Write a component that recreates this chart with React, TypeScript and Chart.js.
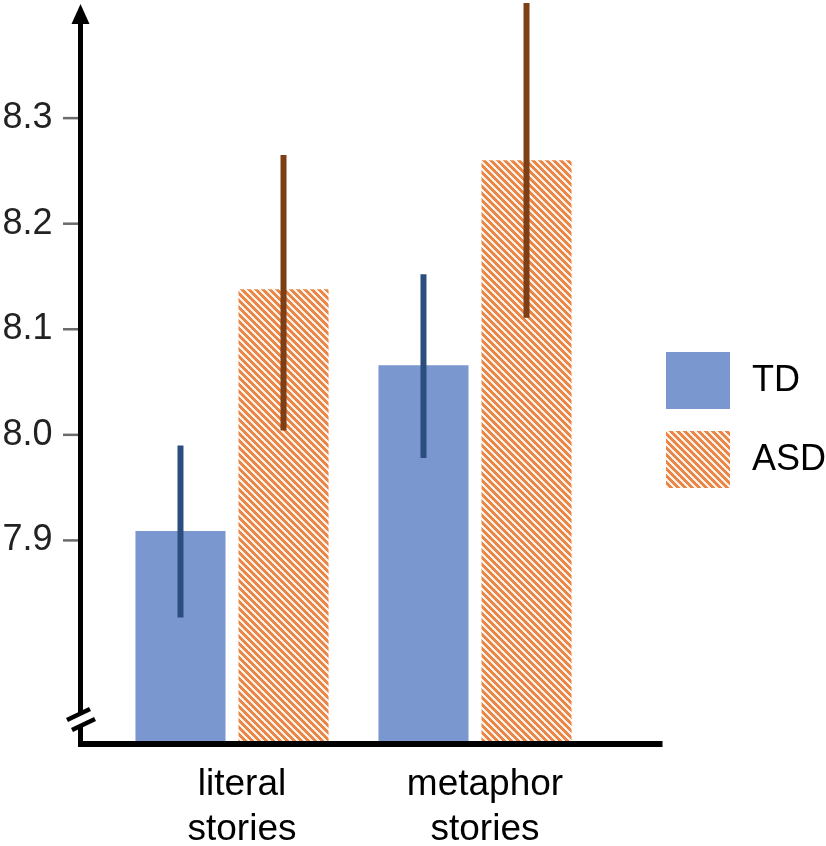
import React, { useEffect, useRef } from "react";
import { Chart, registerables } from "chart.js";

Chart.register(...registerables);

// ---- data ----
const categories: string[][] = [["literal", "stories"], ["metaphor", "stories"]];
const seriesNames = ["TD", "ASD"];
const tdMeans = [7.909, 8.066];
const tdLow = [7.827, 7.978];
const tdHigh = [7.99, 8.152];
const asdMeans = [8.138, 8.26];
const asdLow = [8.004, 8.111];
const asdHigh = [8.265, 8.409];
const yTicks = [7.9, 8.0, 8.1, 8.2, 8.3];
const yMin = 7.71;
const yMax = 8.41;

const FONT = "'Liberation Sans', Arial, Helvetica, sans-serif";
const TD_COLOR = "#7a97cf";
const TD_ERR = "#2b4e7e";
const ASD_ERR = "#7e3f17";
const HATCH_FG = "#ea8748";
const HATCH_BG = "#fdf1e8";

function makeHatch(): CanvasPattern | string {
  const p = 7;
  const c = document.createElement("canvas");
  c.width = p;
  c.height = p;
  const ctx = c.getContext("2d");
  if (!ctx) return HATCH_FG;
  ctx.fillStyle = HATCH_BG;
  ctx.fillRect(0, 0, p, p);
  ctx.fillStyle = HATCH_FG;
  for (let y = 0; y < p; y++) {
    for (let x = 0; x < p; x++) {
      if ((((x - y) % p) + p) % p < 4) ctx.fillRect(x, y, 1, 1);
    }
  }
  return ctx.createPattern(c, "repeat") || HATCH_FG;
}

const decorPlugin = {
  id: "decor",
  afterDatasetsDraw(chart: any) {
    const ctx: CanvasRenderingContext2D = chart.ctx;
    const ys = chart.scales.y;
    const lows = [tdLow, asdLow];
    const highs = [tdHigh, asdHigh];
    const cols = [TD_ERR, ASD_ERR];
    chart.data.datasets.forEach((_ds: any, di: number) => {
      const meta = chart.getDatasetMeta(di);
      meta.data.forEach((bar: any, i: number) => {
        ctx.save();
        ctx.strokeStyle = cols[di];
        ctx.lineWidth = 6;
        ctx.lineCap = "butt";
        ctx.beginPath();
        ctx.moveTo(bar.x, ys.getPixelForValue(lows[di][i]));
        ctx.lineTo(bar.x, ys.getPixelForValue(highs[di][i]));
        ctx.stroke();
        ctx.restore();
      });
    });
  },
  afterDraw(chart: any) {
    const ctx: CanvasRenderingContext2D = chart.ctx;
    const ca = chart.chartArea;
    const ys = chart.scales.y;
    const ax = ca.left - 30; // y axis line x
    const ay = ca.bottom + 3; // x axis line y
    ctx.save();
    // tick marks
    ctx.strokeStyle = "#6b6b6b";
    ctx.lineWidth = 2.5;
    ys.ticks.forEach((t: any) => {
      const py = ys.getPixelForValue(t.value);
      ctx.beginPath();
      ctx.moveTo(ax - 17.5, py);
      ctx.lineTo(ax - 2, py);
      ctx.stroke();
    });
    // y axis
    ctx.strokeStyle = "#000";
    ctx.lineWidth = 5;
    ctx.beginPath();
    ctx.moveTo(ax, 22);
    ctx.lineTo(ax, ay + 3);
    ctx.stroke();
    // x axis
    ctx.lineWidth = 6;
    ctx.beginPath();
    ctx.moveTo(ax - 2.5, ay);
    ctx.lineTo(ca.right + 66, ay);
    ctx.stroke();
    // arrow head
    ctx.fillStyle = "#000";
    ctx.beginPath();
    ctx.moveTo(ax, 4);
    ctx.lineTo(ax - 9, 24);
    ctx.lineTo(ax + 9, 24);
    ctx.closePath();
    ctx.fill();
    // axis break
    const b1 = { x1: ax - 13.5, y1: 720, x2: ax + 9.5, y2: 709 };
    const b2 = { x1: ax - 8.5, y1: 730, x2: ax + 14.5, y2: 719 };
    ctx.fillStyle = "#fff";
    ctx.beginPath();
    ctx.moveTo(ax - 4, 716.5);
    ctx.lineTo(ax + 4, 712.7);
    ctx.lineTo(ax + 4, 722.7);
    ctx.lineTo(ax - 4, 726.5);
    ctx.closePath();
    ctx.fill();
    ctx.strokeStyle = "#000";
    ctx.lineWidth = 4.5;
    [b1, b2].forEach((b) => {
      ctx.beginPath();
      ctx.moveTo(b.x1, b.y1);
      ctx.lineTo(b.x2, b.y2);
      ctx.stroke();
    });
    // legend
    const lx = ca.right + 69.5;
    const boxW = 64;
    const boxH = 57;
    const tops = [352, 431];
    ctx.font = `36px ${FONT}`;
    ctx.textBaseline = "middle";
    ctx.textAlign = "left";
    chart.data.datasets.forEach((ds: any, di: number) => {
      ctx.fillStyle = ds.backgroundColor;
      ctx.fillRect(lx, tops[di], boxW, boxH);
      ctx.fillStyle = "#000";
      ctx.fillText(ds.label, lx + 86, tops[di] + boxH / 2 + 1);
    });
    ctx.restore();
  },
};

export default function App() {
  const ref = useRef<HTMLCanvasElement | null>(null);

  useEffect(() => {
    if (!ref.current) return;
    Chart.defaults.font.family = FONT;
    const hatch = makeHatch();
    const chart = new Chart(ref.current, {
      type: "bar",
      data: {
        labels: categories as any,
        datasets: [
          {
            label: seriesNames[0],
            data: tdMeans,
            backgroundColor: TD_COLOR,
            borderWidth: 0,
            categoryPercentage: 0.848,
            barPercentage: 0.874,
          },
          {
            label: seriesNames[1],
            data: asdMeans,
            backgroundColor: hatch as any,
            borderWidth: 0,
            categoryPercentage: 0.848,
            barPercentage: 0.874,
          },
        ],
      },
      options: {
        animation: false,
        responsive: false,
        layout: { padding: { left: 0, right: 229.5, top: 2, bottom: 0 } },
        plugins: {
          legend: { display: false },
          tooltip: { enabled: false },
        },
        scales: {
          x: {
            grid: { display: false, drawTicks: false },
            border: { display: false },
            ticks: {
              color: "#000",
              font: { size: 37, lineHeight: 1.22 },
              padding: 21,
              labelOffset: 10,
              maxRotation: 0,
              autoSkip: false,
            },
            afterFit: (s: any) => {
              s.height = 105;
              s.paddingLeft = 0;
              s.paddingRight = 0;
            },
          },
          y: {
            min: yMin,
            max: yMax,
            grid: { display: false, drawTicks: false },
            border: { display: false },
            afterBuildTicks: (s: any) => {
              s.ticks = yTicks.map((v) => ({ value: v }));
            },
            ticks: {
              color: "#222",
              font: { size: 36 },
              padding: 58,
              callback: (v: any) => Number(v).toFixed(1),
            },
            afterFit: (s: any) => {
              s.width = 110.5;
              s.paddingTop = 0;
              s.paddingBottom = 0;
            },
          },
        },
      },
      plugins: [decorPlugin],
    });
    return () => chart.destroy();
  }, []);

  return (
    <div style={{ position: "fixed", left: 0, top: 0, width: 826, height: 846, background: "#fff" }}>
      <canvas ref={ref} width={826} height={846} style={{ display: "block" }} />
    </div>
  );
}
